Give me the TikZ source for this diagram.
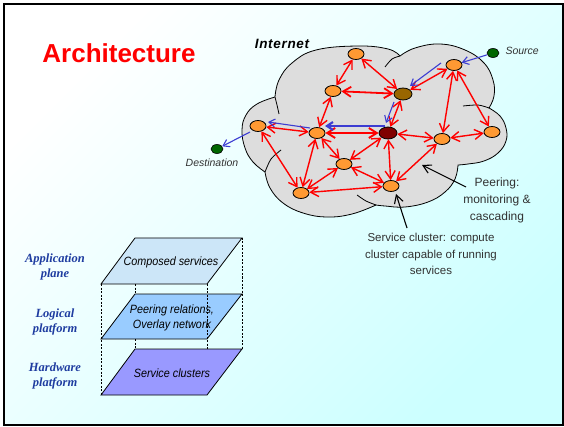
\documentclass[tikz,border=0pt]{standalone}
\usepackage{fontspec}
\setmainfont{Liberation Sans}
\newfontfamily\labelserif{Liberation Serif}
\newfontfamily\narrowsans[FakeStretch=0.9]{Liberation Sans}
\usetikzlibrary{arrows.meta,shapes.geometric,calc}

\definecolor{orangenode}{RGB}{255,153,51}
\definecolor{brownnode}{RGB}{153,102,0}
\definecolor{darkrednode}{RGB}{128,0,0}
\definecolor{greendot}{RGB}{0,102,0}
\definecolor{cloudgray}{RGB}{221,221,221}
\definecolor{flowblue}{RGB}{60,60,210}
\definecolor{layerlabel}{RGB}{30,60,160}
\definecolor{bgcyan}{RGB}{204,255,255}
\definecolor{planeA}{RGB}{204,230,248}
\definecolor{planeB}{RGB}{153,204,255}
\definecolor{planeC}{RGB}{153,153,255}
\definecolor{notegray}{RGB}{50,50,50}

\tikzset{
  site/.style={ellipse, draw=black, line width=0.8pt, minimum width=16pt,
    minimum height=11pt, inner sep=0pt, fill=orangenode},
  hub/.style={site, minimum width=18pt, minimum height=12pt},
  endpt/.style={ellipse, draw=black, line width=0.6pt, fill=greendot,
    minimum width=12pt, minimum height=9pt, inner sep=0pt},
  peer/.style={red, line width=1.4pt,
    {Straight Barb[length=8pt,width=10pt]}-{Straight Barb[length=8pt,width=10pt]}},
  flow/.style={flowblue, line width=1.1pt, -{Straight Barb[length=6pt,width=8pt]}},
  callout/.style={black, line width=1.1pt, -{Straight Barb[length=8pt,width=9pt]}},
  plane/.style={draw=black, line width=0.8pt},
  hidden/.style={black, line width=0.5pt, dash pattern=on 2pt off 1.5pt},
  planetext/.style={font=\narrowsans\fontsize{12}{15}\selectfont\itshape, align=center},
  layername/.style={font=\labelserif\fontsize{12.5}{15}\selectfont\bfseries\itshape,
    text=layerlabel, align=center},
  note/.style={font=\fontsize{12}{17}\selectfont, text=notegray, align=center},
  outline/.style={draw=black, line width=0.8pt},
}

\begin{document}
\begin{tikzpicture}[x=1pt,y=-1pt]
\useasboundingbox (0,0) rectangle (564,427);

% slide background and frame
\shade[top color=white, bottom color=bgcyan, shading angle=45]
  (3.5,4) rectangle (562.8,424.8);
\draw[line width=2pt] (3.5,4) rectangle (562.8,424.8);

% title
\node[font=\fontsize{26}{30}\selectfont\bfseries, text=red] (title) at (119,53) {Architecture};

% the Internet cloud
\filldraw[fill=cloudgray, outline]
  plot[smooth, tension=0.7] coordinates {(275,97) (279,80) (292,63) (316,50) (358,46) (388,49) (400,56)}
  -- plot[smooth, tension=0.7] coordinates {(400,56) (415,48) (440,44) (465,50) (484,63) (493,80) (494,96) (489,108)}
  -- plot[smooth, tension=0.7] coordinates {(489,108) (500,116) (506,128) (506,141) (498,153) (484,161) (468,164) (458,165)}
  -- plot[smooth, tension=0.7] coordinates {(458,165) (455,179) (445,192) (428,202) (405,207) (385,206) (376,205)}
  -- plot[smooth, tension=0.7] coordinates {(376,205) (352,214) (327,217) (303,213) (283,203) (270,188) (265,172)}
  -- plot[smooth, tension=0.7] coordinates {(265,172) (253,162) (245,148) (242,130) (246,115) (257,104) (275,97)}
  -- cycle;
\draw[outline] plot[smooth] coordinates {(275,97) (277,105) (279,114)};
\draw[outline] plot[smooth] coordinates {(281,150) (271,159) (265,172)};
\draw[outline] plot[smooth] coordinates {(385,67) (392,59) (400,56)};
\draw[outline] plot[smooth] coordinates {(463,106) (478,105) (489,108)};
\draw[outline] plot[smooth] coordinates {(357,195) (366,201) (376,205)};

\node[font=\fontsize{13.5}{15}\selectfont\bfseries\itshape\addfontfeature{LetterSpace=5}]
  (inet) at (282,44) {Internet};

% service clusters
\node[site] (n1) at (356,54) {};
\node[site] (n2) at (333,91) {};
\node[hub, fill=brownnode] (n3) at (403,94) {};
\node[site] (n4) at (258,126) {};
\node[site] (n5) at (317,133) {};
\node[hub, fill=darkrednode] (n6) at (388,133) {};
\node[site] (n7) at (344,164) {};
\node[site] (n8) at (301,193) {};
\node[site] (n9) at (391,186) {};
\node[site] (n10) at (442,139) {};
\node[site] (n11) at (492,132) {};
\node[site] (n12) at (454,65) {};

\node[endpt] (src) at (493,53) {};
\node[endpt] (dst) at (217,149) {};
\node[anchor=west, font=\fontsize{10.5}{12}\selectfont\itshape, text=notegray]
  (srclabel) at (502,51) {Source};
\node[font=\fontsize{10.5}{12}\selectfont\itshape, text=notegray]
  (dstlabel) at (212,163) {Destination};

% peering relations
\draw[peer] (n1) -- (n2);
\draw[peer] (n1) -- (n3);
\draw[peer, line width=1.8pt] (n2) -- (n3);
\draw[peer] (n2) -- (n5);
\draw[peer] (n3) -- (n12);
\draw[peer] (n3) -- (n6);
\draw[peer] (n4) -- (n5);
\draw[peer] (n4) -- (n8);
\draw[peer] (n5) -- (n8);
\draw[peer, line width=1.9pt] (n5) -- (n6);
\draw[peer] (n5) -- (n7);
\draw[peer] (n7) -- (n8);
\draw[peer] (n7) -- (n6);
\draw[peer] (n7) -- (n9);
\draw[peer] (n8) -- (n9);
\draw[peer] (n6) -- (n9);
\draw[peer] (n6) -- (n10);
\draw[peer] (n9) -- (n10);
\draw[peer] (n10) -- (n11);
\draw[peer] (n12) -- (n10);
\draw[peer] (n12) -- (n11);

% composed service path from source to destination
\draw[flow] (src) -- (n12);
\draw[flow] ($(n12)+(-13,-2)$) -- ($(n3)+(7,-8)$);
\draw[flow] ($(n3)+(-9,8)$) -- ($(n6)+(-2,-10)$);
\draw[flow, line width=2.2pt] ($(n6)+(-3,-7)$) -- ($(n5)+(8,-7)$);
\draw[flow] ($(n5)+(-7,-5)$) -- ($(n4)+(10,-4)$);
\draw[flow] ($(n4)+(-8,6)$) -- (dst);

% annotations
\node[note] (peertext) at (497,200) {Peering:\\monitoring \&\\cascading};
\node[note, font=\fontsize{11.5}{16.5}\selectfont] (svctext) at (431,254)
  {Service cluster: compute\\cluster capable of running\\services};
\coordinate (peerfrom) at (466,187);
\coordinate (peertip) at (422,165);
\coordinate (svcfrom) at (407,228);
\coordinate (svctip) at (396,194);
\draw[callout] (peerfrom) -- (peertip);
\draw[callout] (svcfrom) -- (svctip);

% layered view
\filldraw[plane, fill=planeA] (135,238) -- (242,238) -- (207,284) -- (101,284) -- cycle;
\filldraw[plane, fill=planeB] (135,294) -- (242,294) -- (207,339) -- (101,339) -- cycle;
\filldraw[plane, fill=planeC] (135,349) -- (242,349) -- (207,395) -- (101,395) -- cycle;
\draw[hidden] (101,284) -- (101,395);
\draw[hidden] (135,284) -- (135,294);
\draw[hidden] (135,339) -- (135,349);
\draw[hidden] (207,284) -- (207,349);
\draw[hidden] (242,238) -- (242,349);

\node[planetext] (appl) at (171,262) {Composed services};
\node[planetext] (logi) at (172,317.5) {Peering relations,\\Overlay network};
\node[planetext] (hard) at (172,373) {Service clusters};

\node[layername] (applname) at (55,266.5) {Application\\plane};
\node[layername] (loginame) at (55,321.5) {Logical\\platform};
\node[layername] (hardname) at (55,376) {Hardware\\platform};
\end{tikzpicture}
\end{document}
